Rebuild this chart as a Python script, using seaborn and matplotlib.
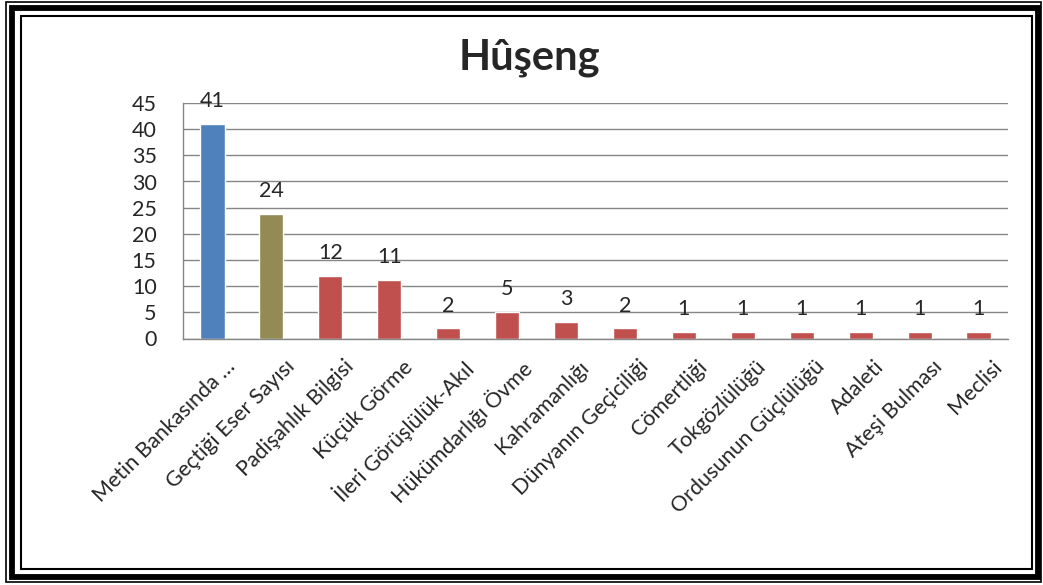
import matplotlib
matplotlib.use("Agg")
import matplotlib.pyplot as plt
import matplotlib.transforms as mtransforms
import seaborn as sns
import numpy as np
from matplotlib.patches import Rectangle

# data
categories = ["Metin Bankasında …", "Geçtiği Eser Sayısı", "Padişahlık Bilgisi", "Küçük Görme",
              "İleri Görüşlülük-Akıl", "Hükümdarlığı Övme", "Kahramanlığı", "Dünyanın Geçiciliği",
              "Cömertliği", "Tokgözlülüğü", "Ordusunun Güçlülüğü", "Adaleti", "Ateşi Bulması", "Meclisi"]
bar_heights = [41, 23.8, 12, 11.2, 2, 5.1, 3.2, 2, 1.3, 1.3, 1.3, 1.3, 1.3, 1.3]
bar_labels = ["41", "24", "12", "11", "2", "5", "3", "2", "1", "1", "1", "1", "1", "1"]
bar_colors = ["#4F81BD", "#948A54"] + ["#C0504D"] * 12

sns.set_style("white")
plt.rcParams["font.family"] = ["Lato", "DejaVu Sans"]

W, H = 1043, 585
fig = plt.figure(figsize=(W / 100, H / 100), dpi=100)
ax = fig.add_axes([183 / W, 1 - 338.5 / H, (1008 - 183) / W, (338.5 - 103) / H])

sns.barplot(x=categories, y=bar_heights, hue=categories, palette=bar_colors,
            legend=False, width=0.41, saturation=1, ax=ax)

ax.set_ylim(0, 45)
ax.set_xlim(-0.5, len(categories) - 0.5)
ax.set_yticks(np.arange(0, 46, 5))
ax.yaxis.grid(True, color="#868686", linewidth=1)
ax.set_axisbelow(True)
ax.set_xlabel("")
ax.set_ylabel("")
for s in ["top", "right"]:
    ax.spines[s].set_visible(False)
for s in ["left", "bottom"]:
    ax.spines[s].set_color("#868686")
    ax.spines[s].set_linewidth(1)

ax.tick_params(axis="y", length=7, color="#868686", labelsize=15.5, pad=12)
ax.set_xticks(range(len(categories)))
ax.set_xticklabels(categories, rotation=45, ha="right", rotation_mode="anchor", fontsize=15.5)
ax.tick_params(axis="x", length=0, pad=13)
ax.set_xticks(np.arange(-0.5, len(categories), 1), minor=True)
ax.tick_params(axis="x", which="minor", length=7, color="#868686")
# Excel puts the end of each slanted label a bit right of the category centre
shift = mtransforms.ScaledTranslation(13 / 100, 0, fig.dpi_scale_trans)
for lab in ax.get_xticklabels():
    lab.set_transform(lab.get_transform() + shift)

for i, (h, lab) in enumerate(zip(bar_heights, bar_labels)):
    ax.annotate(lab, (i, h), xytext=(0, 9), textcoords="offset points",
                ha="center", va="bottom", fontsize=15.5)

fig.text(529 / W, 1 - 58 / H, "Hûşeng", ha="center", va="center", fontsize=30, fontweight="bold")

# triple frame around the chart
def px_rect(x0, y0, x1, y1, lw):
    r = Rectangle((x0 / W, 1 - y1 / H), (x1 - x0) / W, (y1 - y0) / H,
                  transform=fig.transFigure, fill=False, edgecolor="black", linewidth=lw)
    fig.patches.append(r)

px_rect(6, 2, 1041, 582, 1.2)
px_rect(11.5, 8, 1037.5, 577, 4.2)
px_rect(21, 15.5, 1032, 569, 1.5)

fig.savefig("out.png", dpi=100)
